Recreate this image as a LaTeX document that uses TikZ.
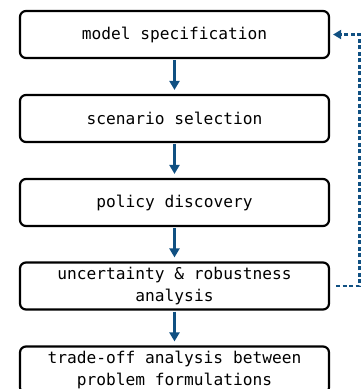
\documentclass[tikz,border=0pt]{standalone}
\usepackage{fontspec}
\setmonofont{DejaVu Sans Mono}
\usetikzlibrary{arrows.meta}
\definecolor{flowblue}{RGB}{16,80,130}
\tikzset{
  stagebox/.style={draw=black, line width=2.2pt, rounded corners=6pt, fill=white,
    minimum width=309pt, minimum height=47pt, align=center,
    font=\ttfamily\fontsize{16.2}{21.5}\selectfont, inner sep=0pt},
  flowarrow/.style={draw=flowblue, line width=2.5pt,
    -{Triangle[length=9pt,width=10pt]}, shorten >=4pt, shorten <=1pt},
  feedback/.style={draw=flowblue, line width=2.2pt, dash pattern=on 4pt off 2.5pt,
    -{Triangle[length=8pt,width=9pt]}, shorten >=3pt}
}
\begin{document}
\begin{tikzpicture}
\useasboundingbox (0,0) rectangle (361pt,-389pt);
\node[stagebox] (ms) at (174.5pt,-34.5pt) {model specification};
\node[stagebox] (ss) at (174.5pt,-118.5pt) {scenario selection};
\node[stagebox] (pd) at (174.5pt,-202.5pt) {policy discovery};
\node[stagebox] (ua) at (174.5pt,-286pt) {uncertainty \& robustness\\analysis};
\node[stagebox] (to) at (174.5pt,-370pt) {trade-off analysis between\\problem formulations};
\draw[flowarrow] (ms) -- (ss);
\draw[flowarrow] (ss) -- (pd);
\draw[flowarrow] (pd) -- (ua);
\draw[flowarrow] (ua) -- (to);
\coordinate (fbcorner) at (359.5pt,-286pt);
\draw[feedback] ([xshift=6pt]ua.east) -- (fbcorner) |- (ms.east);
\end{tikzpicture}
\end{document}
